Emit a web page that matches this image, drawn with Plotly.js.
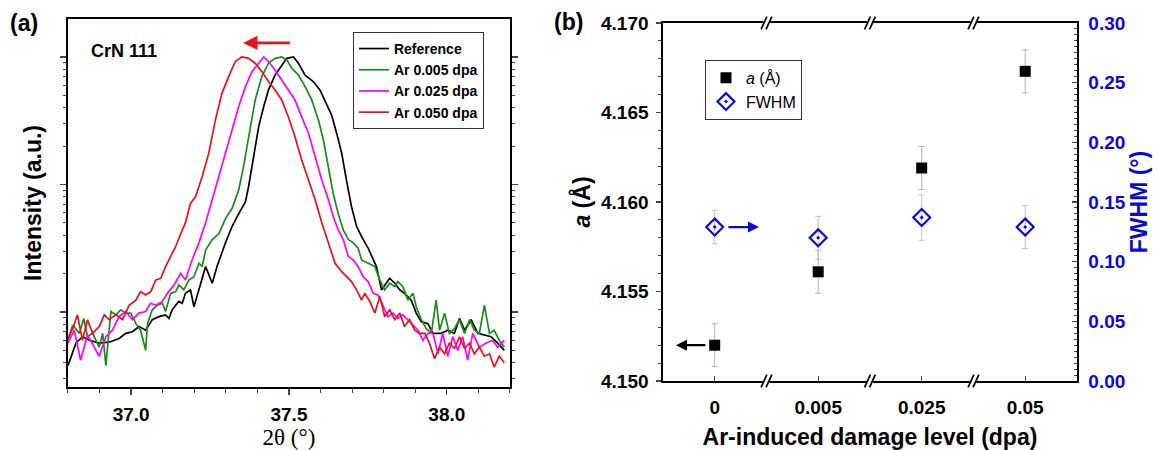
<!DOCTYPE html>
<html>
<head>
<meta charset="utf-8">
<script src="https://cdn.plot.ly/plotly-3.0.1.min.js"></script>
<style>html,body{margin:0;padding:0;background:#fff;}#chart{width:1158px;height:450px;}</style>
</head>
<body>
<div id="chart"></div>
<script>
// ---------- Panel (a): XRD CrN 111 peak ----------
const seriesNames = ['Reference', 'Ar 0.005 dpa', 'Ar 0.025 dpa', 'Ar 0.050 dpa'];

const refX = [36.80,36.825,36.846,36.868,36.899,36.93,36.962,36.983,37.004,37.025,37.046,37.067,37.088,37.109,37.12,37.13,37.151,37.162,37.172,37.188,37.199,37.215,37.236,37.257,37.272,37.299,37.32,37.341,37.362,37.372,37.383,37.393,37.404,37.42,37.435,37.456,37.477,37.493,37.514,37.53,37.551,37.577,37.598,37.619,37.635,37.651,37.667,37.682,37.698,37.714,37.73,37.751,37.767,37.777,37.793,37.809,37.819,37.835,37.851,37.866,37.887,37.903,37.919,37.94,37.956,37.982,38.003,38.024,38.04,38.056,38.077,38.098,38.119,38.14,38.161,38.182];
const refY = [3.8,5.7,6.4,6.0,5.7,5.8,6.2,6.8,7.0,7.7,7.2,8.7,9.2,9.5,8.9,10.4,12.1,11.7,14.0,14.9,11.0,14.9,22.7,16.8,22.7,35,47,59,73,96,138,198,284,408,551,720,865,975,1000,892,720,641,551,430,350,252,176,108,67,47,39,31.6,25.6,22.7,14.9,16.8,18.4,16.8,14.9,14.0,12.4,9.8,8.4,8.1,6.8,6.8,7.2,6.8,8.9,7.2,8.7,6.8,6.6,6.4,5.7,5.0];

const g005X = [36.80,36.815,36.836,36.85,36.862,36.878,36.899,36.91,36.92,36.936,36.952,36.967,36.983,36.999,37.015,37.03,37.046,37.052,37.067,37.083,37.099,37.109,37.125,37.141,37.151,37.167,37.183,37.199,37.215,37.225,37.236,37.257,37.278,37.299,37.32,37.341,37.356,37.367,37.377,37.393,37.414,37.435,37.456,37.477,37.493,37.509,37.53,37.551,37.572,37.593,37.609,37.625,37.64,37.656,37.672,37.688,37.703,37.719,37.73,37.751,37.772,37.788,37.803,37.819,37.835,37.845,37.861,37.877,37.893,37.903,37.919,37.935,37.951,37.966,37.977,37.993,38.008,38.024,38.04,38.056,38.072,38.087,38.103,38.119,38.135,38.15,38.166,38.182];
const g005Y = [6.0,7.9,6.8,8.9,6.4,6.8,5.3,6.8,3.8,10.1,9.5,10.4,9.8,9.8,8.1,7.2,5.0,8.1,10.4,11.3,11.7,10.1,14.0,14.4,16.3,14.9,17.8,18.9,24.1,22.7,30.6,37,41,54,65,91,138,198,268,460,701,892,975,1000,947,815,720,585,460,321,223,138,85,59,44,37,35,31.6,25.6,24.1,22.7,17.8,14.9,16.8,15.8,17.3,15.8,12.4,14.0,11.0,8.7,7.4,6.8,12.4,7.2,9.8,6.8,7.4,8.7,6.8,8.7,7.2,6.8,11.3,6.8,7.2,6.0,5.3];

const g025X = [36.80,36.82,36.84,36.862,36.883,36.899,36.92,36.941,36.962,36.983,37.004,37.025,37.046,37.062,37.078,37.099,37.115,37.136,37.157,37.172,37.193,37.215,37.236,37.257,37.278,37.299,37.32,37.341,37.362,37.383,37.404,37.42,37.435,37.456,37.477,37.498,37.519,37.54,37.562,37.583,37.604,37.625,37.64,37.656,37.672,37.688,37.703,37.719,37.735,37.751,37.767,37.782,37.798,37.814,37.83,37.845,37.861,37.877,37.893,37.909,37.924,37.94,37.956,37.972,37.987,38.003,38.019,38.035,38.05,38.066,38.082,38.103,38.124,38.145,38.161,38.182];
const g025Y = [5.7,7.2,4.2,6.6,5.3,4.5,6.4,7.2,9.2,10.1,8.7,9.8,10.1,11.7,11.3,12.1,14.0,16.3,20.1,17.8,25.6,35,50,76,115,176,268,408,585,767,892,1000,920,790,660,551,460,340,252,165,108,76,56,44,37,27.2,25.6,22.7,18.9,17.3,14.0,13.6,11.0,9.2,9.8,8.9,9.5,8.7,7.9,7.2,6.0,6.8,6.8,4.7,6.8,4.5,6.4,5.0,6.4,4.2,6.8,5.3,5.7,6.0,5.3,6.0];

const g050X = [36.80,36.815,36.83,36.846,36.862,36.878,36.899,36.915,36.93,36.952,36.973,36.994,37.015,37.03,37.046,37.062,37.078,37.094,37.109,37.125,37.141,37.157,37.172,37.188,37.204,37.225,37.246,37.267,37.288,37.309,37.33,37.351,37.372,37.393,37.414,37.435,37.456,37.477,37.498,37.519,37.54,37.562,37.583,37.604,37.625,37.646,37.667,37.682,37.698,37.714,37.73,37.74,37.756,37.772,37.788,37.803,37.819,37.835,37.851,37.866,37.882,37.898,37.914,37.93,37.945,37.961,37.977,37.993,38.008,38.024,38.04,38.056,38.072,38.087,38.103,38.119,38.135,38.15,38.166,38.182];
const g050Y = [6.2,7.4,9.5,6.0,8.7,6.8,7.7,9.5,8.7,9.5,8.7,11.3,12.4,14.4,13.6,14.4,17.8,18.4,22.7,27.2,32.5,41,50,71,80,115,176,321,520,701,920,1000,975,892,767,641,551,460,340,237,156,108,76,50,35,24.1,20.7,18.9,17.3,14.9,12.4,14.0,12.1,9.8,13.2,9.2,10.4,8.7,9.8,7.7,8.7,7.2,6.8,6.8,5.7,4.3,5.3,4.7,5.7,5.2,6.4,5.2,5.7,4.7,5.3,4.5,4.7,3.7,4.5,4.0];

const xrdColors = ['#000000', '#1b8a1b', '#ff00ff', '#e8121a'];
const xTickA = [37.0, 37.5, 38.0];
const xTickAText = ['37.0', '37.5', '38.0'];

// ---------- Panel (b): lattice parameter & FWHM ----------
const dpaLabels = ['0', '0.005', '0.025', '0.05'];
const latticeA = [4.1520, 4.1561, 4.1619, 4.1673];
const latticeErr = [0.0012, 0.0012, 0.0012, 0.0012];
const fwhm = [0.129, 0.120, 0.137, 0.129];
const fwhmErr = [0.014, 0.018, 0.019, 0.018];

const FONT = 'Arial, "Liberation Sans", sans-serif';
const BLUE = '#0a0ad0';

const xs = [refX, g005X, g025X, g050X];
const ys = [refY, g005Y, g025Y, g050Y];
const traces = seriesNames.map((n, i) => ({
  type: 'scatter', mode: 'lines', name: n, x: xs[i], y: ys[i],
  xaxis: 'x', yaxis: 'y', legend: 'legend',
  line: {color: xrdColors[i], width: 1.7}
}));

traces.push({
  type: 'scatter', mode: 'markers', name: '<i>a</i> (Å)',
  x: dpaLabels, y: latticeA, xaxis: 'x2', yaxis: 'y2', legend: 'legend2',
  marker: {symbol: 'square', size: 11, color: '#000'},
  error_y: {type: 'data', array: latticeErr, visible: true, color: '#b4b4b4', thickness: 1, width: 3}
});
traces.push({
  type: 'scatter', mode: 'markers', name: 'FWHM',
  x: dpaLabels, y: fwhm, xaxis: 'x2', yaxis: 'y3', legend: 'legend2',
  marker: {symbol: 'diamond-open-dot', size: 13, color: BLUE, line: {width: 2.2, color: BLUE}},
  error_y: {type: 'data', array: fwhmErr, visible: true, color: '#bcc0e8', thickness: 1, width: 3}
});

const minorLog = [];
[1, 10, 100, 1000].forEach(d => { for (let k = 2; k <= 9; k++) minorLog.push(k * d); });

// break marks on panel (b) x axis (between categories), top and bottom
const shapes = [];
[0.5, 1.5, 2.5].forEach(c => {
  [0, 1].forEach(yy => {
    shapes.push({type: 'line', xref: 'x2', yref: 'y2 domain', x0: c - 0.028, x1: c + 0.028, y0: yy, y1: yy,
      line: {color: '#ffffff', width: 4}, layer: 'above'});
    [-0.024, 0.024].forEach(o => {
      shapes.push({type: 'line', xref: 'x2', yref: 'y2 domain',
        x0: c + o - 0.028, x1: c + o + 0.028, y0: yy - 0.018, y1: yy + 0.018,
        line: {color: '#000', width: 1.7}, layer: 'above'});
    });
  });
});

const layout = {
  width: 1158, height: 450,
  margin: {l: 0, r: 0, t: 0, b: 0},
  paper_bgcolor: '#fff', plot_bgcolor: '#fff',
  font: {family: FONT, color: '#000'},
  showlegend: true,
  xaxis: {
    domain: [0.0587, 0.4404], range: [36.8, 38.2],
    tickvals: xTickA, ticktext: xTickAText,
    ticks: 'outside', ticklen: 6, tickwidth: 1.3,
    minor: {dtick: 0.1, ticks: 'outside', ticklen: 4, tickwidth: 1},
    showline: true, linewidth: 1.6, linecolor: '#000', mirror: true,
    showgrid: false, zeroline: false, ticklabelstandoff: 4,
    tickfont: {size: 19, weight: 'bold', family: FONT},
    title: {text: '2θ (°)', font: {size: 23, family: '"Liberation Serif", "Times New Roman", serif'}, standoff: 3}
  },
  yaxis: {
    domain: [0.14, 0.958], type: 'log', range: [0.412, 3.298],
    tickvals: [10, 100, 1000], showticklabels: false,
    ticks: 'outside', ticklen: 6, tickwidth: 1.3,
    minor: {tickvals: minorLog, ticks: 'outside', ticklen: 3, tickwidth: 1},
    showline: true, linewidth: 1.6, linecolor: '#000', mirror: 'ticks',
    showgrid: false, zeroline: false,
    title: {text: 'Intensity (a.u.)', font: {size: 23, weight: 'bold', family: FONT}, standoff: 12}
  },
  xaxis2: {
    domain: [0.5725, 0.930], type: 'category', range: [-0.5, 3.5],
    anchor: 'y2', ticks: 'inside', ticklen: 5, tickwidth: 1.3,
    showline: true, linewidth: 1.6, linecolor: '#000', mirror: true,
    showgrid: false, zeroline: false, ticklabelstandoff: 9,
    tickfont: {size: 19, weight: 'bold', family: FONT},
    title: {text: 'Ar-induced damage level (dpa)', font: {size: 23, weight: 'bold', family: FONT}, standoff: 12}
  },
  yaxis2: {
    domain: [0.1533, 0.9489], anchor: 'x2', range: [4.150, 4.170],
    dtick: 0.005, tick0: 4.150, tickformat: '.3f',
    ticks: 'outside', ticklen: 5, tickwidth: 1.3,
    minor: {dtick: 0.001, ticks: 'outside', ticklen: 3, tickwidth: 1},
    showline: true, linewidth: 1.6, linecolor: '#000',
    showgrid: false, zeroline: false, ticklabelstandoff: 4,
    tickfont: {size: 19, weight: 'bold', family: FONT},
    title: {text: '<i>a</i> (Å)', font: {size: 23, weight: 'bold', family: FONT}, standoff: 4}
  },
  yaxis3: {
    overlaying: 'y2', side: 'right', anchor: 'x2', range: [0, 0.30],
    dtick: 0.05, tick0: 0, tickformat: '.2f',
    ticks: 'inside', ticklen: 5, tickwidth: 1.3,
    minor: {dtick: 0.005, ticks: 'inside', ticklen: 3, tickwidth: 1},
    showline: true, linewidth: 1.6, linecolor: '#000',
    showgrid: false, zeroline: false, ticklabelstandoff: 6,
    tickfont: {size: 19, weight: 'bold', color: BLUE, family: FONT},
    title: {text: 'FWHM (°)', font: {size: 23, weight: 'bold', color: BLUE, family: FONT}, standoff: 4}
  },
  legend: {
    x: 0.3048, y: 0.929, xanchor: 'left', yanchor: 'top',
    bgcolor: '#fff', bordercolor: '#333', borderwidth: 1,
    font: {size: 14, weight: 'bold', family: FONT},
    itemwidth: 30, tracegroupgap: 0
  },
  legend2: {
    x: 0.6088, y: 0.867, xanchor: 'left', yanchor: 'top',
    bgcolor: '#fff', bordercolor: '#333', borderwidth: 1,
    font: {size: 16, family: FONT}, itemwidth: 30
  },
  shapes: shapes,
  annotations: [
    {text: '<b>(a)</b>', xref: 'paper', yref: 'paper', x: 0.007, y: 0.948, xanchor: 'left', yanchor: 'middle', showarrow: false, font: {size: 23}},
    {text: '<b>(b)</b>', xref: 'paper', yref: 'paper', x: 0.477, y: 0.951, xanchor: 'left', yanchor: 'middle', showarrow: false, font: {size: 23}},
    {text: '<b>CrN 111</b>', xref: 'x', yref: 'paper', x: 36.866, y: 0.887, xanchor: 'left', yanchor: 'middle', showarrow: false, font: {size: 18}},
    {text: '', xref: 'x', yref: 'y', axref: 'x', ayref: 'y', x: 37.355, y: 3.11, ax: 37.508, ay: 3.11,
      showarrow: true, arrowhead: 2, arrowsize: 1.1, arrowwidth: 2.6, arrowcolor: '#e8121a'},
    {text: '', xref: 'x2', yref: 'y2', axref: 'x2', ayref: 'y2', x: -0.374, y: 4.152, ax: -0.075, ay: 4.152,
      showarrow: true, arrowhead: 2, arrowsize: 1, arrowwidth: 2.2, arrowcolor: '#000'},
    {text: '', xref: 'x2', yref: 'y3', axref: 'x2', ayref: 'y3', x: 0.428, y: 0.129, ax: 0.118, ay: 0.129,
      showarrow: true, arrowhead: 2, arrowsize: 1, arrowwidth: 2.2, arrowcolor: BLUE}
  ]
};

Plotly.newPlot('chart', traces, layout, {displayModeBar: false, staticPlot: true});
</script>
</body>
</html>
